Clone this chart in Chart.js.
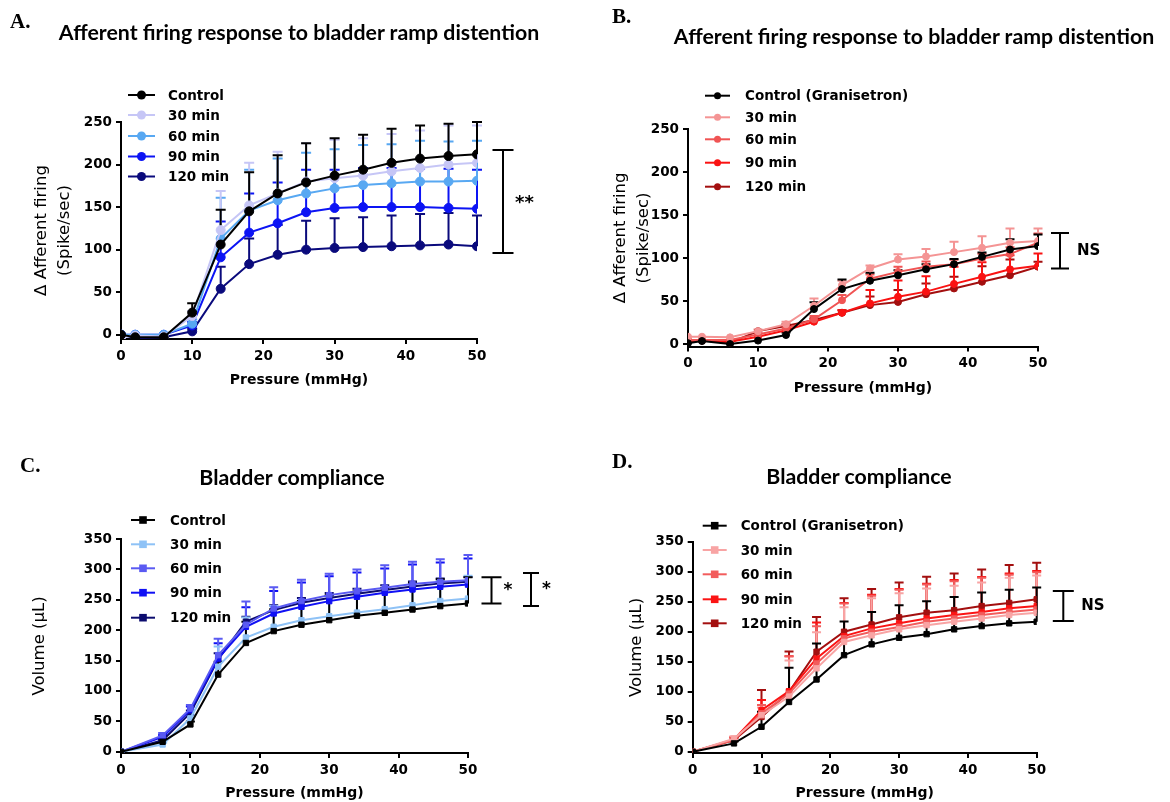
<!DOCTYPE html>
<html>
<head>
<meta charset="utf-8">
<script src="https://cdn.jsdelivr.net/npm/chart.js@4.4.1/dist/chart.umd.min.js"></script>
<style>
  html, body { margin: 0; padding: 0; background: #fff; }
  #page { position: relative; width: 1170px; height: 802px; overflow: hidden; background: #fff; }
  .panel { position: absolute; width: 585px; height: 401px; }
  .panel canvas { position: absolute; left: 0; top: 0; }
  .letter { position: absolute; font-family: "Liberation Serif", "Times New Roman", serif; font-weight: bold;
            font-size: 21px; line-height: 1; color: #000; transform: translateY(-50%); }
  .title { position: absolute; font-family: Lato, "Liberation Sans", sans-serif; font-weight: bold; font-size: 21.3px;
           line-height: 1; color: #000; white-space: nowrap; transform: translate(-50%, -50%); }
</style>
</head>
<body>
<div id="page">
  <div class="panel" style="left:0;top:0"><canvas id="cA" width="585" height="401"></canvas></div>
  <div class="panel" style="left:585px;top:0"><canvas id="cB" width="585" height="401"></canvas></div>
  <div class="panel" style="left:0;top:401px"><canvas id="cC" width="585" height="401"></canvas></div>
  <div class="panel" style="left:585px;top:401px"><canvas id="cD" width="585" height="401"></canvas></div>

  <div class="letter" style="left:10px;top:21px">A.</div>
  <div class="letter" style="left:612px;top:16px">B.</div>
  <div class="letter" style="left:20px;top:465px">C.</div>
  <div class="letter" style="left:612px;top:461px">D.</div>

  <div class="title" style="left:299px;top:33px">Afferent firing response to bladder ramp distention</div>
  <div class="title" style="left:914px;top:37px">Afferent firing response to bladder ramp distention</div>
  <div class="title" style="left:292px;top:478px">Bladder compliance</div>
  <div class="title" style="left:859px;top:477px">Bladder compliance</div>
</div>

<script>
// ---- shared axes ----
const PRESSURE_AB = [0, 2, 6, 10, 14, 18, 22, 26, 30, 34, 38, 42, 46, 50];
const PRESSURE_CD = [0, 6, 10, 14, 18, 22, 26, 30, 34, 38, 42, 46, 50];
const X_TICKS = [0, 10, 20, 30, 40, 50];
const Y_TICKS_FIRING = [0, 50, 100, 150, 200, 250];
const Y_TICKS_VOLUME = [0, 50, 100, 150, 200, 250, 300, 350];

// ---- A: afferent firing (spike/sec), mean and upper SEM ----
const LABELS_A = ['Control', '30 min', '60 min', '90 min', '120 min'];
const A_CONTROL     = [0, -3, -3, 26, 106, 145, 166, 179, 187, 194, 202, 207, 210, 212];
const A_CONTROL_ERR = [0, 0, 0, 11, 41, 46, 45, 46, 44, 41, 40, 39, 38, 38];
const A_30          = [-3, -1, -2, 22, 123, 152, 166, 180, 184, 187, 192, 196, 200, 202];
const A_30_ERR      = [0, 0, 0, 6, 46, 50, 49, 45, 45, 44, 44, 44, 46, 44];
const A_60          = [0, 0, 0, 13, 113, 146, 158, 166, 172, 176, 178, 180, 180, 181];
const A_60_ERR      = [0, 0, 0, 5, 48, 48, 49, 48, 46, 47, 46, 48, 47, 47];
const A_90          = [0, 0, 0, 11, 91, 120, 131, 144, 149, 150, 150, 150, 149, 148];
const A_90_ERR      = [0, 0, 0, 4, 42, 46, 48, 50, 45, 46, 46, 45, 46, 46];
const A_120         = [0, -4, -3, 4, 54, 83, 94, 100, 102, 103, 104, 105, 106, 104];
const A_120_ERR     = [0, 0, 0, 3, 26, 30, 35, 34, 35, 35, 36, 37, 37, 36];

// ---- B: afferent firing with granisetron ----
const LABELS_B = ['Control (Granisetron)', '30 min', '60 min', '90 min', '120 min'];
const B_CONTROL     = [1, 3.5, 0, 4, 10.5, 40.7, 64, 73.6, 80, 87, 93, 101.5, 110, 114];
const B_CONTROL_ERR = [0, 0, 0, 0, 3, 8, 11, 9.5, 6, 6, 6, 5, 12, 13.5];
const B_30          = [8.5, 8.5, 7.8, 15, 23, 44.6, 68.6, 88, 98.4, 102, 107, 112, 118, 120];
const B_30_ERR      = [0, 0, 0, 2, 3, 8.5, 5, 3.5, 6, 8.5, 12, 13.6, 16.5, 14.5];
const B_60          = [4.6, 4.6, 4.6, 11, 18, 28.7, 51, 76, 84, 90, 93, 99.6, 104.7, 118];
const B_60_ERR      = [0, 0, 0, 2, 3, 4, 6, 5, 6, 6, 5, 5.4, 8, 10.7];
const B_90          = [4, 4, 2.7, 8.5, 16, 26, 36.4, 47.3, 55, 61, 70, 78.3, 87, 91];
const B_90_ERR      = [0, 0, 0, 0, 0, 3, 3, 15.7, 19, 18, 20, 17, 16.5, 14.4];
const B_120         = [2.7, 4, 1.5, 15, 21, 28, 36.4, 45.3, 49, 58, 64.7, 72.5, 80, 90];
const B_120_ERR     = [0, 0, 0, 0, 2, 2, 3, 10, 14, 12.5, 13.6, 18, 18.4, 5.7];

// ---- C: bladder compliance, volume (uL) ----
const LABELS_C = ['Control', '30 min', '60 min', '90 min', '120 min'];
const C_CONTROL     = [0, 16.4, 45, 127, 179, 198.5, 209, 216.5, 223.7, 228.6, 234, 239.6, 244];
const C_CONTROL_ERR = [0, 3, 5, 21, 35, 36, 39, 41, 40, 41, 44, 44, 43];
const C_30          = [0, 12, 55, 140, 188, 205.6, 216.5, 223, 229, 234.6, 241, 248, 252];
const C_30_ERR      = [0, 3, 6, 33, 33, 34, 32.5, 33, 34, 34, 33, 33, 37.5];
const C_60          = [0, 27, 71, 159, 209, 235.7, 248, 257.7, 264, 270, 276, 279.6, 282];
const C_60_ERR      = [0, 4, 6, 27, 38, 35, 35, 35, 36, 37, 36.5, 37, 41.5];
const C_90          = [0, 24.7, 68.5, 153.5, 205.6, 227.5, 238.5, 247.8, 255, 261.5, 267, 271.4, 275];
const C_90_ERR      = [0, 3, 6, 25, 32, 37, 40, 41, 40, 40, 41, 40, 43];
const C_120         = [0, 19, 64, 152, 214, 233, 245, 253, 260, 266, 272, 277, 279.6];
const C_120_ERR     = [0, 2, 4, 10, 8, 8, 8, 8, 8, 8, 8, 8, 8];

// ---- D: bladder compliance with granisetron ----
const LABELS_D = ['Control (Granisetron)', '30 min', '60 min', '90 min', '120 min'];
const D_CONTROL     = [0, 14, 41.7, 83, 120.5, 161, 179, 190, 196, 204, 209.4, 214, 216.7];
const D_CONTROL_ERR = [0, 3, 25, 57, 60, 56, 54, 54, 55, 54, 56, 56, 57];
const D_30          = [0, 22, 61, 92, 139, 183, 194, 204, 211, 216.7, 222, 228, 231.7];
const D_30_ERR      = [0, 4, 13, 60, 60, 58, 62, 60, 61, 60, 60, 62, 62];
const D_60          = [0, 19.4, 64, 97, 147, 189, 200, 208, 216.7, 222, 228, 233, 237];
const D_60_ERR      = [0, 4, 14, 62, 62, 58, 60, 62, 62, 62, 62, 62, 62];
const D_90          = [0, 20.5, 69.4, 101, 155.5, 192.8, 205.6, 214, 222, 228, 233, 239, 243];
const D_90_ERR      = [0, 4, 17, 58, 60, 55, 56, 57, 58, 58, 58, 58, 58];
const D_120         = [0, 19.4, 58, 100, 166.7, 200, 212, 224, 231.7, 236, 242.8, 248, 254];
const D_120_ERR     = [0, 4, 45, 67, 58, 56, 59, 58, 60, 61, 61, 63, 61];

// ---- drawing helpers ----
const TICK_FONT = { family: 'DejaVu Sans', weight: 'bold', size: 13.5 };
const LEGEND_FONT = 'bold 13.5px "DejaVu Sans"';

function drawMarker(ctx, style, x, y, r, color) {
  ctx.fillStyle = color;
  ctx.beginPath();
  if (style === 'rect') ctx.rect(x - r, y - r, 2 * r, 2 * r);
  else ctx.arc(x, y, r, 0, Math.PI * 2);
  ctx.fill();
}

// upward error bars with caps, drawn in each series' colour
function errorBarPlugin(capHalf) {
  return {
    id: 'errorBars',
    beforeDatasetsDraw(chart) {
      const ctx = chart.ctx, ys = chart.scales.y;
      ctx.save();
      for (let i = chart.data.datasets.length - 1; i >= 0; i--) {
        const ds = chart.data.datasets[i];
        const meta = chart.getDatasetMeta(i);
        ctx.strokeStyle = ds.borderColor;
        ctx.lineWidth = 2;
        meta.data.forEach((pt, j) => {
          const e = ds.errors[j];
          if (!e) return;
          const top = ys.getPixelForValue(ds.data[j].y + e);
          ctx.beginPath();
          ctx.moveTo(pt.x, pt.y);
          ctx.lineTo(pt.x, top);
          ctx.moveTo(pt.x - capHalf, top);
          ctx.lineTo(pt.x + capHalf, top);
          ctx.stroke();
        });
      }
      ctx.restore();
    }
  };
}

// legend rows: short line with marker, then bold label
function legendPlugin(spec) {
  return {
    id: 'panelLegend',
    afterDraw(chart) {
      const ctx = chart.ctx;
      ctx.save();
      chart.data.datasets.forEach((ds, i) => {
        const y = spec.rows[i];
        ctx.strokeStyle = ds.borderColor;
        ctx.lineWidth = ds.borderWidth;
        ctx.beginPath();
        ctx.moveTo(spec.x1, y);
        ctx.lineTo(spec.x2, y);
        ctx.stroke();
        drawMarker(ctx, ds.pointStyle, spec.mx, y, ds.pointRadius, ds.borderColor);
        ctx.fillStyle = '#000';
        ctx.font = LEGEND_FONT;
        ctx.textBaseline = 'middle';
        ctx.textAlign = 'left';
        ctx.fillText(ds.label, spec.tx, y + 1);
      });
      ctx.restore();
    }
  };
}

// significance brackets to the right of the plot
function bracketPlugin(items) {
  return {
    id: 'sigBrackets',
    afterDraw(chart) {
      const ctx = chart.ctx, ys = chart.scales.y;
      ctx.save();
      ctx.strokeStyle = '#000';
      ctx.fillStyle = '#000';
      ctx.lineWidth = 2;
      items.forEach(b => {
        const x = chart.chartArea.right + b.dx;
        const y1 = ys.getPixelForValue(b.from), y2 = ys.getPixelForValue(b.to);
        ctx.beginPath();
        ctx.moveTo(x - b.cap, y1); ctx.lineTo(x + b.cap, y1);
        ctx.moveTo(x, y1); ctx.lineTo(x, y2);
        ctx.moveTo(x - b.cap, y2); ctx.lineTo(x + b.cap, y2);
        ctx.stroke();
        ctx.font = b.font;
        ctx.textAlign = 'left';
        ctx.textBaseline = 'middle';
        ctx.fillText(b.text, x + b.tx, (y1 + y2) / 2 + (b.ty || 0));
      });
      ctx.restore();
    }
  };
}

function makePanel(id, p) {
  const datasets = p.series.map((s, i) => ({
    label: p.labels[i],
    data: p.xs.map((x, j) => ({ x, y: s.values[j] })),
    errors: s.errors,
    borderColor: s.color,
    backgroundColor: s.color,
    pointBackgroundColor: s.color,
    pointBorderColor: s.color,
    pointStyle: p.pointStyle,
    pointRadius: p.pointRadius,
    pointBorderWidth: 1,
    borderWidth: p.lineWidth,
    tension: 0,
    fill: false
  }));
  const axisCommon = {
    type: 'linear',
    grid: { display: true, drawOnChartArea: false, drawTicks: true, tickLength: 5, color: '#000', lineWidth: 2 },
    border: { display: true, color: '#000', width: 2 },
    ticks: { color: '#000', font: TICK_FONT, padding: 4, maxRotation: 0, autoSkip: false }
  };
  new Chart(document.getElementById(id), {
    type: 'line',
    data: { datasets },
    options: {
      animation: false,
      responsive: false,
      events: [],
      layout: { padding: { left: 0, right: p.padRight, top: p.padTop, bottom: 0 } },
      plugins: { legend: { display: false }, tooltip: { enabled: false }, title: { display: false } },
      scales: {
        x: Object.assign({}, axisCommon, {
          min: 0, max: 50,
          afterBuildTicks: s => { s.ticks = X_TICKS.map(v => ({ value: v })); },
          afterFit: s => { s.height = p.xHeight; },
          title: { display: true, text: 'Pressure (mmHg)', color: '#000',
                   font: { family: 'DejaVu Sans', weight: 'bold', size: 14, lineHeight: 1.2 },
                   padding: { top: 0, bottom: p.xTitlePad } }
        }),
        y: Object.assign({}, axisCommon, {
          min: p.yMin, max: p.yMax,
          afterBuildTicks: s => { s.ticks = p.yTicks.map(v => ({ value: v })); },
          afterFit: s => { s.width = p.yWidth; },
          title: { display: true, text: p.yTitle, color: '#000',
                   font: { family: 'DejaVu Sans', size: 16.5, lineHeight: 1.4 },
                   padding: { top: p.yTitlePad, bottom: 0 } }
        })
      }
    },
    plugins: [errorBarPlugin(p.capHalf), legendPlugin(p.legend), bracketPlugin(p.brackets)]
  });
}

makePanel('cA', {
  xs: PRESSURE_AB, labels: LABELS_A,
  series: [
    { values: A_CONTROL, errors: A_CONTROL_ERR, color: '#000000' },
    { values: A_30, errors: A_30_ERR, color: '#c6c6f6' },
    { values: A_60, errors: A_60_ERR, color: '#58a8f2' },
    { values: A_90, errors: A_90_ERR, color: '#0c14f4' },
    { values: A_120, errors: A_120_ERR, color: '#0a0a7c' }
  ],
  pointStyle: 'circle', pointRadius: 4.5, lineWidth: 2, capHalf: 5,
  yMin: -5, yMax: 250, yTicks: Y_TICKS_FIRING,
  yTitle: ['\u0394 Afferent firing', '(Spike/sec)'],
  padTop: 122, padRight: 108, yWidth: 121, xHeight: 62, xTitlePad: 12.6, yTitlePad: 30.5,
  legend: { rows: [95, 115, 136, 156.5, 176.5], x1: 128, x2: 155, mx: 141.5, tx: 168 },
  brackets: [{ dx: 26, from: 96, to: 217, cap: 10.5, text: '**', tx: 12, ty: 2, font: 'bold 18px "DejaVu Sans"' }]
});

makePanel('cB', {
  xs: PRESSURE_AB, labels: LABELS_B,
  series: [
    { values: B_CONTROL, errors: B_CONTROL_ERR, color: '#000000' },
    { values: B_30, errors: B_30_ERR, color: '#f49494' },
    { values: B_60, errors: B_60_ERR, color: '#f05454' },
    { values: B_90, errors: B_90_ERR, color: '#fa1212' },
    { values: B_120, errors: B_120_ERR, color: '#a30f0f' }
  ],
  pointStyle: 'circle', pointRadius: 3.5, lineWidth: 2, capHalf: 4.5,
  yMin: -3, yMax: 250, yTicks: Y_TICKS_FIRING,
  yTitle: ['\u0394 Afferent firing', '(Spike/sec)'],
  padTop: 129.3, padRight: 132, yWidth: 103, xHeight: 54.4, xTitlePad: 4.6, yTitlePad: 24.5,
  legend: { rows: [95.7, 117.3, 139.3, 162.7, 186.7], x1: 120, x2: 145, mx: 132.5, tx: 160 },
  brackets: [{ dx: 22, from: 88, to: 129.4, cap: 9, text: 'NS', tx: 17, ty: 0, font: 'bold 15px "DejaVu Sans"' }]
});

makePanel('cC', {
  xs: PRESSURE_CD, labels: LABELS_C,
  series: [
    { values: C_CONTROL, errors: C_CONTROL_ERR, color: '#000000' },
    { values: C_30, errors: C_30_ERR, color: '#8ec2f6' },
    { values: C_60, errors: C_60_ERR, color: '#5a5af2' },
    { values: C_90, errors: C_90_ERR, color: '#1010f4' },
    { values: C_120, errors: C_120_ERR, color: '#0c0c6e' }
  ],
  pointStyle: 'rect', pointRadius: 3.8, lineWidth: 2, capHalf: 4.5,
  yMin: -2, yMax: 350, yTicks: Y_TICKS_VOLUME,
  yTitle: 'Volume (\u03bcL)',
  padTop: 138, padRight: 117, yWidth: 121, xHeight: 49, xTitlePad: 0.6, yTitlePad: 28.5,
  legend: { rows: [119, 143.3, 167.3, 191.7, 216.7], x1: 131, x2: 155, mx: 143, tx: 170 },
  brackets: [
    { dx: 23.5, from: 244, to: 287, cap: 10, text: '*', tx: 12, ty: 0, font: 'bold 17px "DejaVu Sans"' },
    { dx: 63, from: 239.6, to: 294, cap: 8, text: '*', tx: 11, ty: 0, font: 'bold 17px "DejaVu Sans"' }
  ]
});

makePanel('cD', {
  xs: PRESSURE_CD, labels: LABELS_D,
  series: [
    { values: D_CONTROL, errors: D_CONTROL_ERR, color: '#000000' },
    { values: D_30, errors: D_30_ERR, color: '#f8a4a4' },
    { values: D_60, errors: D_60_ERR, color: '#f25c5c' },
    { values: D_90, errors: D_90_ERR, color: '#fb1414' },
    { values: D_120, errors: D_120_ERR, color: '#a30f0f' }
  ],
  pointStyle: 'rect', pointRadius: 3.8, lineWidth: 2, capHalf: 4.5,
  yMin: -2, yMax: 350, yTicks: Y_TICKS_VOLUME,
  yTitle: 'Volume (\u03bcL)',
  padTop: 140.7, padRight: 133.3, yWidth: 107.7, xHeight: 49, xTitlePad: 0.6, yTitlePad: 40.5,
  legend: { rows: [124.7, 149, 173.3, 198.3, 222.3], x1: 117.7, x2: 141.7, mx: 129.7, tx: 155.7 },
  brackets: [{ dx: 26.6, from: 218, to: 268, cap: 10.5, text: 'NS', tx: 18, ty: 0, font: 'bold 15px "DejaVu Sans"' }]
});
</script>
</body>
</html>
